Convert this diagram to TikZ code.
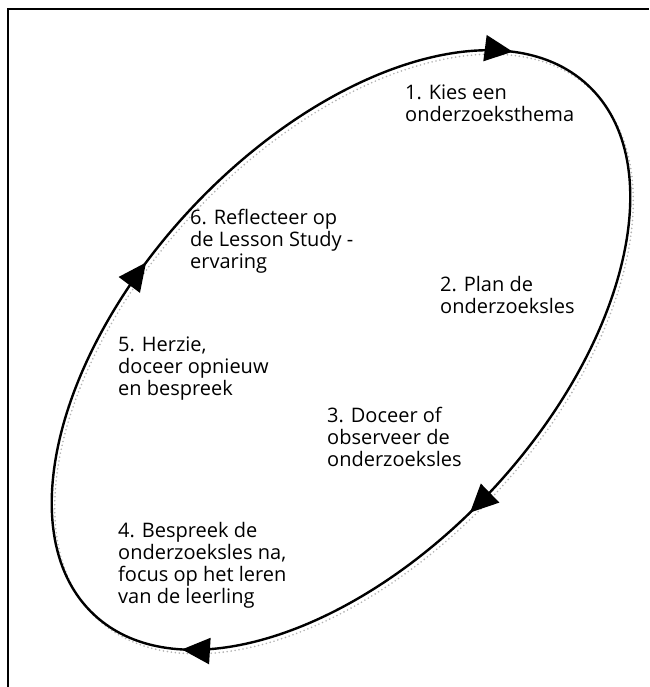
\documentclass[tikz,border=0pt]{standalone}
\usepackage{fontspec}
\setmainfont{Open Sans}
\usepackage{tikz}
\usetikzlibrary{arrows.meta}
\usetikzlibrary{decorations.markings}
\tikzset{t/.style={font=\fontsize{20}{22}\selectfont, align=left, anchor=north west, inner sep=0pt}}
\tikzset{bigtip/.tip={Triangle[length=28pt, width=26pt]}}

\begin{document}
\begin{tikzpicture}[x=1pt, y=1pt]
        \useasboundingbox (0,0) rectangle (649,687);
        \draw[line width=2pt] (8,0) -- (8,678) -- (649,678);
        \draw[gray!60, line width=1.8pt, line cap=round, dash pattern=on 0pt off 4pt, shift={(3,-4)}, rotate around={47:(341,337)}] (341,337) ellipse (362 and 206);
        \draw[line width=2.4pt, rotate around={47:(341,337)},
          decoration={markings,
            mark=at position 0.046 with {\arrowreversed{bigtip}},
            mark=at position 0.288 with {\arrowreversed{bigtip}},
            mark=at position 0.553 with {\arrowreversed{bigtip}},
            mark=at position 0.733 with {\arrowreversed{bigtip}}},
          postaction={decorate}] (341,337) ellipse (362 and 206);
        \node[t] (kies) at (405,602) {1. Kies een\\onderzoeksthema};
        \node[t] (plan) at (440,411) {2. Plan de\\onderzoeksles};
        \node[t] (doceer) at (327,280) {3. Doceer of\\observeer de\\onderzoeksles};
        \node[t] (bespreek) at (118,165) {4. Bespreek de\\onderzoeksles na,\\focus op het leren\\van de leerling};
        \node[t] (herzie) at (118,350) {5. Herzie,\\doceer opnieuw\\en bespreek};
        \node[t] (reflect) at (190,478) {6. Reflecteer op\\de Lesson Study -\\ervaring};
      \end{tikzpicture}
\end{document}
